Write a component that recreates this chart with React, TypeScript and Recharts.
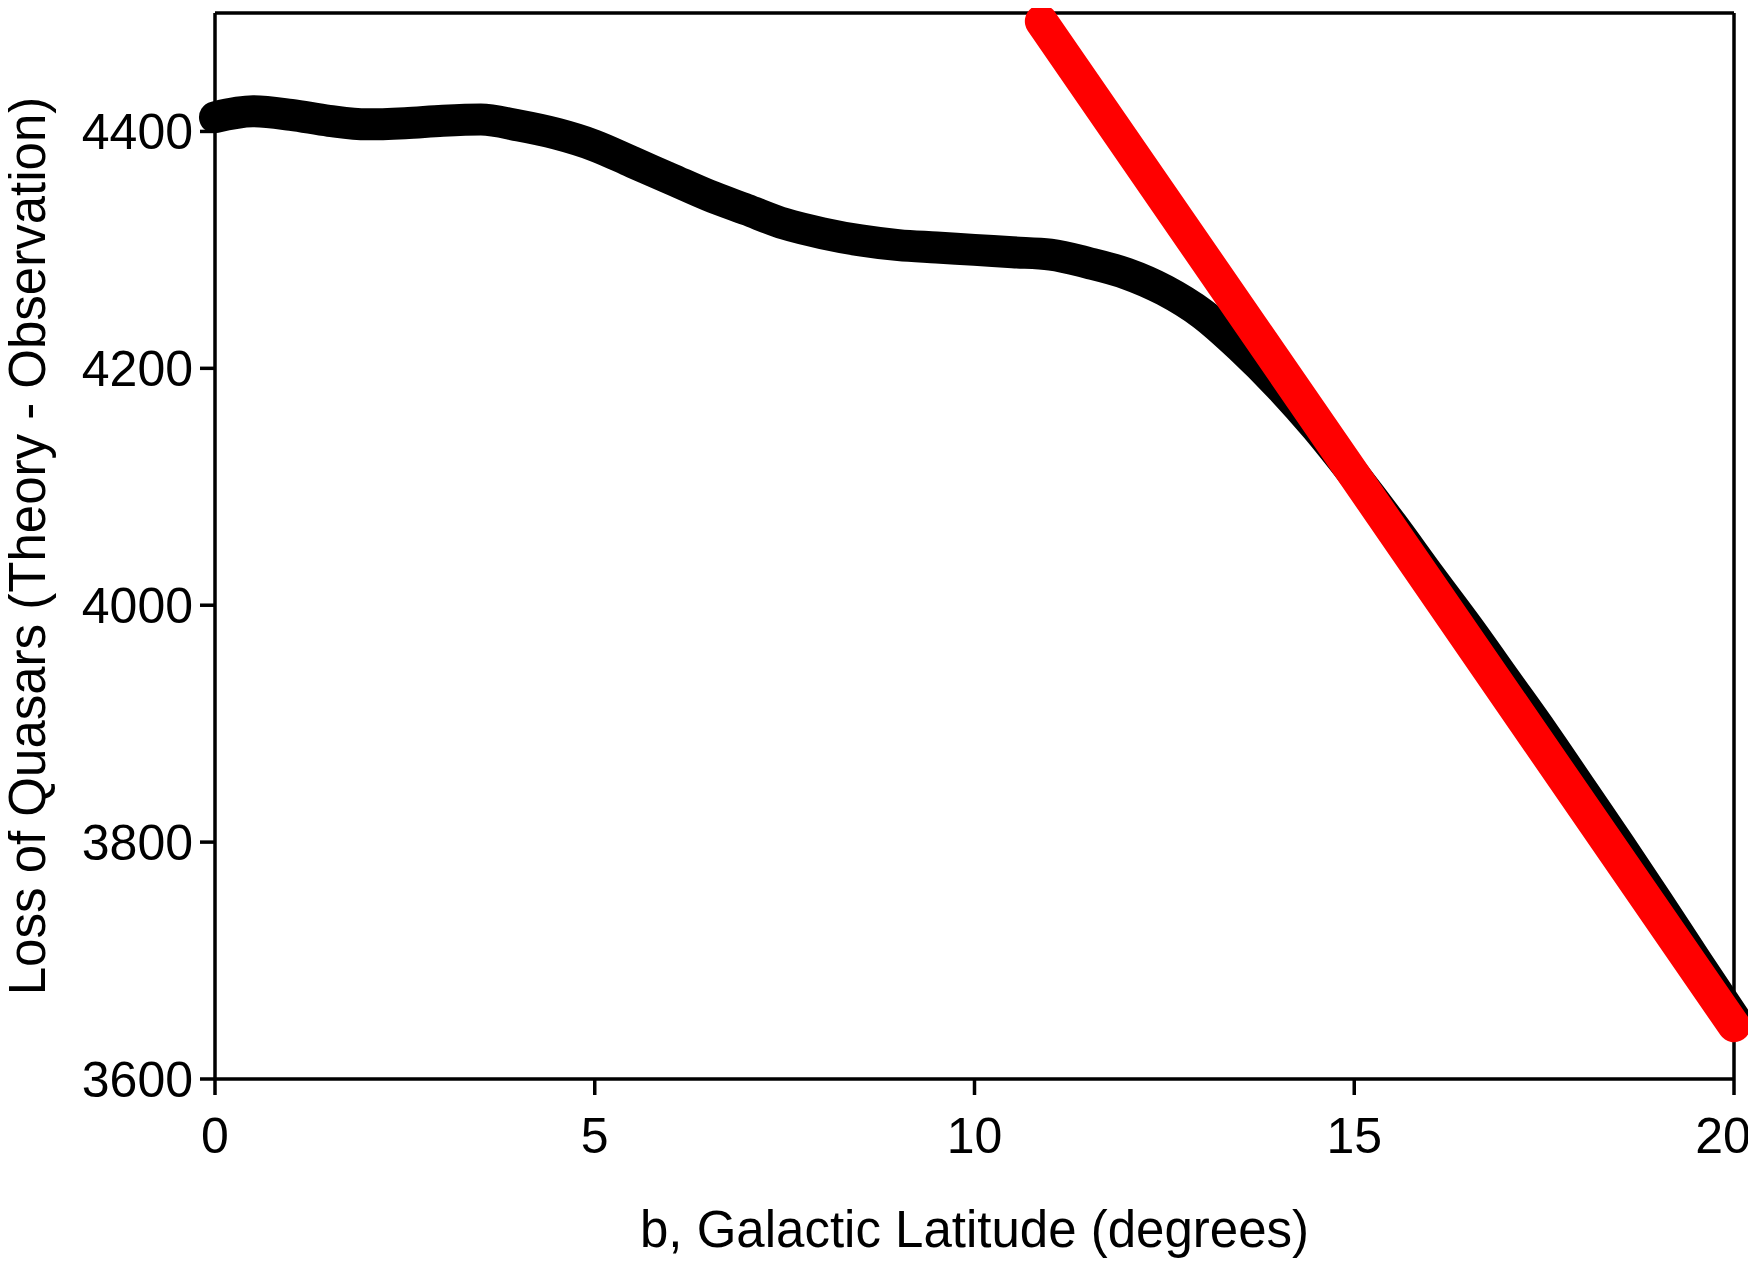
import { Label, Line, LineChart, ReferenceLine, XAxis, YAxis } from "recharts"

// loss of quasars vs galactic latitude
const latitude = [
  0, 0.5, 1, 1.5, 2, 2.5, 3, 3.5, 4, 4.5, 5, 5.5, 6, 6.5, 7, 7.5, 8, 8.5, 9, 9.5, 10,
  10.5, 11, 11.5, 12, 12.5, 13, 13.5, 14, 14.5, 15, 15.5, 16, 16.5, 17, 17.5, 18, 18.5,
  19, 19.5, 20,
]
const loss = [
  4412, 4417, 4414, 4409, 4406, 4407, 4409, 4410, 4405, 4398, 4388, 4374, 4360, 4346,
  4334, 4322, 4314, 4308, 4304, 4302, 4300, 4298, 4296, 4289, 4280, 4266, 4246, 4218,
  4186, 4150, 4110, 4068, 4024, 3981, 3936, 3891, 3844, 3797, 3749, 3700, 3652,
]

// straight-line fit, end points
const fitLatitude = [10.88, 20]
const fitLoss = [4493, 3645]

const xTicks = [0, 5, 10, 15, 20]
const yTicks = [3600, 3800, 4000, 4200, 4400]
const xMax = 20
const yMax = 4500

const curve = latitude.map((b, i) => ({ b, v: loss[i] }))
const fit = fitLatitude.map((b, i) => ({ b, v: fitLoss[i] }))

const FONT = "'Liberation Sans', Arial, sans-serif"
const tickStyle = { fontSize: 50, fill: "#000", fontFamily: FONT }

export default function App() {
  return (
    <div style={{ width: 1740, height: 1250, background: "#fff" }}>
      <LineChart width={1740} height={1250} margin={{ top: 5, right: 14, bottom: 0, left: 0 }}>
        <XAxis
          xAxisId="main"
          dataKey="b"
          type="number"
          domain={[0, xMax]}
          ticks={xTicks}
          height={179}
          tickSize={16}
          tickMargin={22}
          stroke="#000"
          strokeWidth={3.5}
          tick={tickStyle}
          allowDuplicatedCategory={false}
        >
          <Label
            content={({ viewBox }: any) => (
              <text
                x={viewBox.x + viewBox.width / 2}
                y={1221}
                textAnchor="middle"
                dominantBaseline="central"
                style={{ fontSize: 51, fontFamily: FONT, fill: "#000" }}
              >
                b, Galactic Latitude (degrees)
              </text>
            )}
          />
        </XAxis>
        <YAxis
          yAxisId="main"
          type="number"
          domain={[3600, yMax]}
          ticks={yTicks}
          width={207}
          tickSize={15}
          tickMargin={7}
          stroke="#000"
          strokeWidth={3.5}
          tick={tickStyle}
        >
          <Label
            content={({ viewBox }: any) => {
              const cy = viewBox.y + viewBox.height / 2
              return (
                <text
                  x={19}
                  y={cy}
                  transform={`rotate(-90 19 ${cy})`}
                  textAnchor="middle"
                  dominantBaseline="central"
                  style={{ fontSize: 51, fontFamily: FONT, fill: "#000" }}
                >
                  Loss of Quasars (Theory - Observation)
                </text>
              )
            }}
          />
        </YAxis>
        <ReferenceLine xAxisId="main" yAxisId="main" y={yMax} stroke="#000" strokeWidth={3.5} />
        <ReferenceLine xAxisId="main" yAxisId="main" x={xMax} stroke="#000" strokeWidth={3.5} />
        <Line
          xAxisId="main"
          yAxisId="main"
          data={curve}
          dataKey="v"
          type="monotone"
          stroke="#000"
          strokeWidth={32}
          strokeLinecap="round"
          dot={false}
          isAnimationActive={false}
        />
        <Line
          xAxisId="main"
          yAxisId="main"
          data={fit}
          dataKey="v"
          type="linear"
          stroke="#ff0000"
          strokeWidth={33}
          strokeLinecap="round"
          dot={false}
          isAnimationActive={false}
        />
      </LineChart>
    </div>
  )
}
